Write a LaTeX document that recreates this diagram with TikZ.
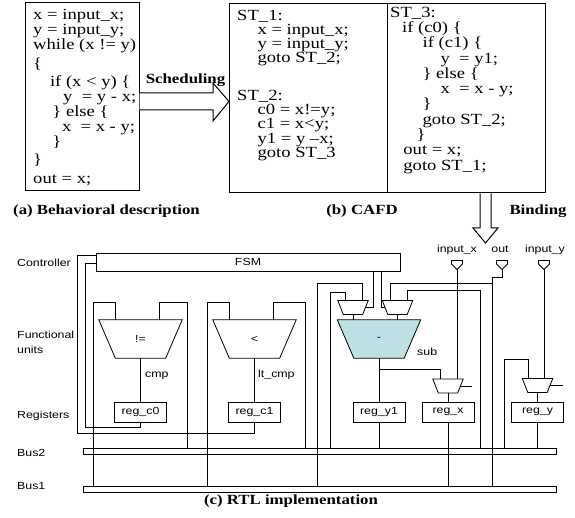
\documentclass[tikz,border=0pt]{standalone}
\usepackage{fontspec}
\setmainfont{Liberation Serif}[FakeStretch=1.2]
\setsansfont{Liberation Sans}[FakeStretch=1.2]
\newfontfamily\codefont{Liberation Serif}[Ligatures=TeX]
\usetikzlibrary{shapes.geometric,calc,positioning,backgrounds}
\definecolor{subfill}{RGB}{188,224,228}

\tikzset{
  codebox/.style={draw, line width=1pt, inner sep=0pt},
  code/.style={anchor=north west, align=left, inner sep=0pt, xscale=1.2, transform shape},
  capt/.style={font=\bfseries\fontsize{14}{16}\selectfont, inner sep=0pt, anchor=base},
  lbl/.style={font=\sffamily\fontsize{10.3}{12}\selectfont, inner sep=0pt},
  reg/.style={draw, lbl, minimum width=52pt, minimum height=20pt},
  fu/.style={lbl, minimum width=83pt, minimum height=38pt, inner sep=0pt},
  mux/.style={minimum width=30pt, minimum height=13.5pt, inner sep=0pt},
  bus/.style={draw, minimum width=473pt, minimum height=6pt, inner sep=0pt},
  wire/.style={line width=0.8pt},
}

\begin{document}
\begin{tikzpicture}[x=1pt, y=-1pt]
\useasboundingbox (0,0) rectangle (575,518);

% behavioral description
\node[codebox, minimum width=114pt, minimum height=188pt] (beh) at (82,97) {};
\node[code, font=\codefont\fontsize{15.5}{15}\selectfont] (behcode) at (33,8) {\rule{0pt}{11pt}x = input\_x;\\
y = input\_y;\\
while (x != y)\\[4pt]
\{\\[3pt]
\hspace*{14pt}if (x < y) \{\\
\hspace*{25pt}y\ \ = y - x;\\
\hspace*{16pt}\} else \{\\
\hspace*{24pt}x\ \ = x - y;\\
\hspace*{16pt}\}\\[3pt]
\}\\[4pt]
out = x;};
\node[capt] (capa) at (106.5,215) {(a) Behavioral description};

% scheduling arrow
\draw[line width=1pt, fill=white] (beh.east |- 0,93) -- (213,93) -- (213,83) -- (229,101.5)
  -- (213,121) -- (213,110) -- (beh.east |- 0,110);
\node[capt] (sched) at (185.5,84) {Scheduling};

% CAFD
\node[codebox, minimum width=158pt, minimum height=189pt] (st12) at (308,98.5) {};
\node[codebox, minimum width=158pt, minimum height=189pt] (st3) at (466,98.5) {};
\node[code, font=\codefont\fontsize{15.5}{14}\selectfont] (st1code) at (237,9) {\rule{0pt}{11pt}ST\_1:\\
\hspace*{17pt}x = input\_x;\\
\hspace*{17pt}y = input\_y;\\
\hspace*{17pt}goto ST\_2;};
\node[code, font=\codefont\fontsize{15.5}{14.3}\selectfont] (st2code) at (237,89) {\rule{0pt}{11pt}ST\_2:\\
\hspace*{17pt}c0 = x!=y;\\
\hspace*{17pt}c1 = x<y;\\
\hspace*{17pt}y1 = y --x;\\
\hspace*{17pt}goto ST\_3};
\node[code, font=\codefont\fontsize{15.5}{15.3}\selectfont] (st3code) at (390,6) {\rule{0pt}{11pt}ST\_3:\\
\hspace*{10pt}if (c0) \{\\
\hspace*{27pt}if (c1) \{\\
\hspace*{42pt}y\ \ = y1;\\
\hspace*{27pt}\} else \{\\
\hspace*{42pt}x\ \ = x - y;\\
\hspace*{27pt}\}\\
\hspace*{27pt}goto ST\_2;\\
\hspace*{22pt}\}\\
\hspace*{11pt}out = x;\\
\hspace*{11pt}goto ST\_1;};
\node[capt] (capb) at (362,215) {(b) CAFD};

% binding arrow
\draw[line width=1pt, fill=white] (st3.south -| 480,0) -- (480,228) -- (473,228) -- (485.5,243)
  -- (498,228) -- (491,228) -- (st3.south -| 491,0);
\node[capt] (bind) at (538,215) {Binding};

% RTL: row labels
\node[lbl, anchor=base west] (lctrl) at (17,267) {Controller};
\node[lbl, anchor=base west] (lfu) at (17,338) {Functional};
\node[lbl, anchor=base west] (lunits) at (17,353) {units};
\node[lbl, anchor=base west] (lregs) at (17,418) {Registers};
\node[lbl, anchor=base west] (lbus2) at (17,456) {Bus2};
\node[lbl, anchor=base west] (lbus1) at (17,489) {Bus1};

% controller, units, registers, buses
\node[draw, lbl, minimum width=304pt, minimum height=18pt] (fsm) at (248,262) {FSM};
\node[fu] (ne) at (140.5,339) {!=};
\node[fu] (lt) at (254.5,339) {<};
\node[fu] (sub) at (379,339) {-};
\node[lbl, anchor=base west] (cmplbl) at (145,377) {cmp};
\node[lbl, anchor=base west] (ltlbl) at (258,377) {lt\_cmp};
\node[lbl, anchor=base west] (sublbl) at (417,355) {sub};
\node[mux] (lmux) at (353,307.5) {};
\node[mux] (rmux) at (397.5,307.5) {};
\node[mux] (xmux) at (448,386) {};
\node[mux] (ymux) at (537.5,385.5) {};
\begin{scope}[on background layer]
\fill[subfill] (sub.north west) -- (sub.north east) -- ([xshift=-16.5pt]sub.south east) -- ([xshift=16.5pt]sub.south west) -- cycle;
\foreach \n/\d in {ne/16.5, lt/16.5, sub/16.5, lmux/5.5, rmux/5.5, xmux/5.5, ymux/5.5}
  \draw[wire] (\n.north west) -- (\n.north east) -- ([xshift=-\d pt]\n.south east) -- ([xshift=\d pt]\n.south west) -- cycle;
\end{scope}
\node[reg] (regc0) at (140.5,412) {reg\_c0};
\node[reg] (regc1) at (254.5,412) {reg\_c1};
\node[reg] (regy1) at (379,412) {reg\_y1};
\node[reg] (regx) at (448,412) {reg\_x};
\node[reg] (regy) at (537.5,412) {reg\_y};
\node[bus] (bus2) at (319.5,451) {};
\node[bus] (bus1) at (319.5,489) {};

% ports
\foreach \n/\x in {px/457, pout/502, py/544} {
  \draw[wire] (\x-5.5,260.5) -- (\x+5.5,260.5) -- (\x+5.5,264) -- (\x,269.5) -- (\x-5.5,264) -- cycle;
  \coordinate (\n) at (\x,269.5);
}
\node[lbl, anchor=base] (lpx) at (457,253) {input\_x};
\node[lbl, anchor=base] (lpout) at (500,253) {out};
\node[lbl, anchor=base] (lpy) at (545,253) {input\_y};
\coordinate (xsel) at (472,386);
\coordinate (ysel) at (563,385.5);

% wires around cmp
\draw[wire] (ne.north -| 115,0) |- (93,302) -- (bus1.north -| 93,0);
\draw[wire] (ne.north -| 159,0) |- (187,302) -- (bus2.north -| 187,0);
\draw[wire] (ne.south) -- (regc0.north);
\draw[wire] (regc0.south) |- (85,427) |- (fsm.west |- 0,263);
% wires around lt_cmp
\draw[wire] (lt.north -| 229,0) |- (207,302) -- (bus1.north -| 207,0);
\draw[wire] (lt.north -| 273,0) |- (305,302) -- (bus2.north -| 305,0);
\draw[wire] (lt.south) -- (regc1.north);
\draw[wire] (regc1.south) |- (77,433) |- (fsm.west |- 0,255);
% wires around sub
\draw[wire] (bus2.north -| 330,0) |- (345,292) -- (lmux.north -| 345,0);
\draw[wire] (bus1.north -| 317,0) |- (362,283) -- (lmux.north -| 362,0);
\draw[wire] (fsm.south -| 373,0) |- ([xshift=-2.75pt]lmux.east);
\draw[wire] (fsm.south -| 381,0) |- ([xshift=2.75pt]rmux.west);
\draw[wire] (bus2.north -| 480,0) |- (407,290) -- (rmux.north -| 407,0);
\draw[wire] (bus1.north -| 492,0) -- (492,277) -| (pout);
\draw[wire] (492,283) -| (rmux.north -| 390,0);
\draw[wire] (lmux.south) -- (lmux.south |- sub.north);
\draw[wire] (rmux.south) -- (rmux.south |- sub.north);
\draw[wire] (sub.south) -- (regy1.north);
\draw[wire] (regy1.south) -- (bus2.north -| regy1.south);
\draw[wire] (sub.south |- 0,369) -| (xmux.north -| 440,0);
% wires around reg_x, reg_y
\draw[wire] (px) -- (xmux.north -| px);
\draw[wire] ([xshift=-2.75pt]xmux.east) -- (xsel);
\draw[wire] (xmux.south) -- (regx.north);
\draw[wire] (regx.south) -- (bus1.north -| regx.south);
\draw[wire] (py) -- (ymux.north -| py);
\draw[wire] (bus2.north -| 504,0) |- (528,359) -- (ymux.north -| 528,0);
\draw[wire] ([xshift=-2.75pt]ymux.east) -- (ysel);
\draw[wire] (ymux.south) -- (regy.north);
\draw[wire] (regy.south) -- (bus2.north -| regy.south);

\node[capt] (capc) at (291,504) {(c) RTL implementation};
\end{tikzpicture}
\end{document}
